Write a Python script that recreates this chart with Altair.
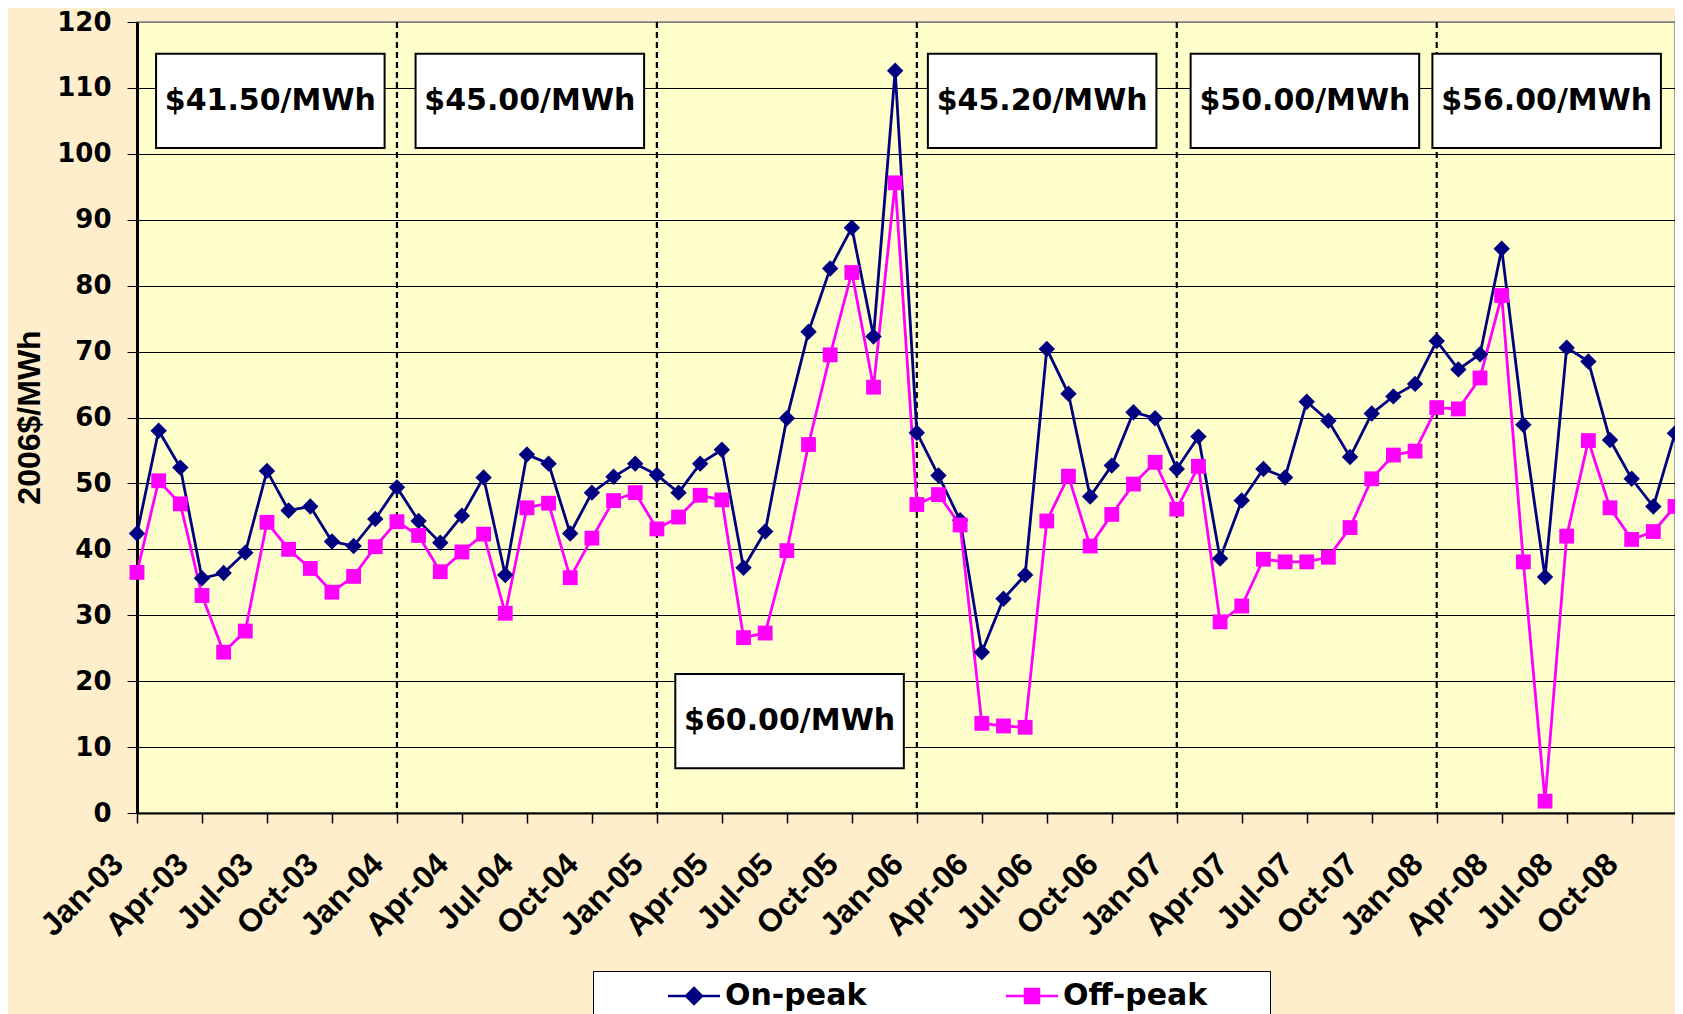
import json
import altair as alt
import pandas as pd

month_names = ["Jan", "Feb", "Mar", "Apr", "May", "Jun", "Jul", "Aug", "Sep", "Oct", "Nov", "Dec"]
years = ["03", "04", "05", "06", "07", "08"]
months = [f"{m}-{y}" for y in years for m in month_names]
tick_labels = months[::3]

on_peak = [42.4, 58.0, 52.4, 35.6, 36.4, 39.5, 51.9, 45.9, 46.5, 41.2, 40.5, 44.6,
           49.4, 44.3, 41.0, 45.1, 50.9, 36.1, 54.4, 53.0, 42.4, 48.6, 51.0, 53.0,
           51.3, 48.6, 53.0, 55.1, 37.2, 42.7, 59.9, 73.0, 82.6, 88.8, 72.3, 112.6,
           57.7, 51.2, 44.4, 24.4, 32.5, 36.1, 70.4, 63.6, 48.0, 52.7, 60.8, 59.9,
           52.2, 57.1, 38.6, 47.4, 52.2, 50.9, 62.4, 59.5, 54.0, 60.6, 63.2, 65.1,
           71.6, 67.3, 69.6, 85.6, 58.9, 35.8, 70.6, 68.5, 56.6, 50.7, 46.5, 57.6]
off_peak = [36.5, 50.4, 46.9, 33.0, 24.4, 27.6, 44.1, 40.0, 37.1, 33.5, 35.9, 40.4,
            44.2, 42.1, 36.6, 39.6, 42.3, 30.3, 46.3, 47.0, 35.7, 41.7, 47.4, 48.6,
            43.1, 44.9, 48.2, 47.5, 26.6, 27.3, 39.8, 55.9, 69.5, 82.0, 64.6, 95.6,
            46.8, 48.3, 43.7, 13.6, 13.2, 13.0, 44.3, 51.1, 40.5, 45.3, 49.9, 53.2,
            46.1, 52.6, 29.0, 31.4, 38.5, 38.1, 38.1, 38.8, 43.3, 50.7, 54.3, 54.9,
            61.5, 61.3, 66.0, 78.5, 38.1, 1.8, 42.0, 56.5, 46.3, 41.5, 42.7, 46.5]
series_names = ["On-peak", "Off-peak"]
series_colors = ["#000080", "#FF00FF"]

# price annotation boxes (in month-index / $ units)
price_labels = ["$41.50/MWh", "$45.00/MWh", "$60.00/MWh", "$45.20/MWh", "$50.00/MWh", "$56.00/MWh"]
box_start = [0.88, 12.86, 24.85, 36.51, 48.64, 59.8]
box_low = [100.9, 100.9, 6.8, 100.9, 100.9, 100.9]
BOX_W = 10.55
BOX_H = 14.3
year_starts = [12, 24, 36, 48, 60]

n = len(months)
df = pd.DataFrame({
    "idx": list(range(n)) * 2,
    "month": months * 2,
    "series": [series_names[0]] * n + [series_names[1]] * n,
    "value": on_peak + off_peak,
})
boxes = pd.DataFrame({
    "label": price_labels,
    "x0": box_start,
    "x1": [b + BOX_W for b in box_start],
    "y0": box_low,
    "y1": [b + BOX_H for b in box_low],
    "xc": [b + BOX_W / 2 for b in box_start],
    "yc": [b + BOX_H / 2 for b in box_low],
})
rules_df = pd.DataFrame({"idx": year_starts})

xscale = alt.Scale(domain=[0, n - 1], nice=False, zero=False)
yscale = alt.Scale(domain=[0, 120], nice=False)

axis_x = alt.Axis(
    values=list(range(0, n, 3)),
    labelExpr=f"{json.dumps(tick_labels)}[round(datum.value/3)]",
    labelAngle=315, labelAlign="right", labelBaseline="top",
    labelFont="Liberation Sans", labelFontSize=32, labelFontWeight="bold", labelColor="black",
    labelOffset=-30, labelPadding=25, labelOverlap=False, labelFlush=False,
    tickSize=10, tickColor="black", tickWidth=1.5,
    domainColor="black", domainWidth=2, grid=False, title=None,
)
axis_y = alt.Axis(
    values=list(range(0, 121, 10)),
    labelFont="DejaVu Sans", labelFontSize=26, labelFontWeight="bold", labelColor="black",
    labelPadding=16, tickSize=10, tickColor="black", tickWidth=1,
    domainColor="black", domainWidth=3,
    grid=True, gridColor=alt.condition("datum.value == 120", alt.value("#808080"), alt.value("black")),
    gridWidth=1,
    title="2006$/MWh", titleFont="Liberation Sans", titleFontSize=32,
    titleFontWeight="bold", titleColor="black", titleX=-108, titleY=395,
    titleAlign="center", titleBaseline="middle", titleAngle=270,
)

X = lambda f: alt.X(f, scale=xscale, axis=axis_x, title=None)
Y = lambda f: alt.Y(f, scale=yscale, axis=axis_y, title="2006$/MWh")

rules = alt.Chart(rules_df).mark_rule(color="black", strokeWidth=2.2, strokeDash=[6, 4]).encode(
    x=X("idx:Q")
)

rects = alt.Chart(boxes).mark_rect(fill="white", stroke="black", strokeWidth=2).encode(
    x=X("x0:Q"), x2="x1:Q", y=Y("y0:Q"), y2="y1:Q"
)
texts = alt.Chart(boxes).mark_text(
    font="DejaVu Sans", fontSize=30, fontWeight="bold", color="black", baseline="middle"
).encode(x=X("xc:Q"), y=Y("yc:Q"), text="label:N")

on_path = "M-1,0H5.5M2.25,-1L3.25,0L2.25,1L1.25,0Z"
off_path = "M-1,0H5.5M1.375,-0.875H3.125V0.875H1.375Z"
trail = "\u00a0" * 5 + "\u200b"

legend = alt.Legend(
    title=" ", titleOrient="left", titlePadding=58, titleFontSize=4,
    orient="none", legendX=456, legendY=949, direction="horizontal",
    fillColor="white", strokeColor="black", padding=10,
    labelFont="DejaVu Sans", labelFontSize=30, labelFontWeight="bold", labelColor="black",
    labelLimit=500,
    symbolSize=256, symbolStrokeWidth=2.5, symbolOpacity=1, labelOffset=34, columnPadding=132,
    labelExpr=f"datum.label == 'Off-peak' ? datum.label + '{trail}' : datum.label",
)

cscale = alt.Scale(domain=series_names, range=series_colors)

lines = alt.Chart(df).mark_line(strokeWidth=2.8).encode(
    x=X("idx:Q"), y=Y("value:Q"),
    color=alt.Color("series:N", scale=cscale, legend=legend),
)
pts_on = alt.Chart(df).transform_filter(alt.datum.series == "On-peak").mark_point(
    shape="diamond", filled=True, opacity=1, size=270, color=series_colors[0]
).encode(x=X("idx:Q"), y=Y("value:Q"))
pts_off = alt.Chart(df).transform_filter(alt.datum.series == "Off-peak").mark_point(
    shape="square", filled=True, opacity=1, size=220, color=series_colors[1]
).encode(x=X("idx:Q"), y=Y("value:Q"))

legend_layer = alt.Chart(df).transform_filter("datum.idx < 0").mark_point(
    filled=True, opacity=1, strokeWidth=2.5
).encode(
    x=X("idx:Q"), y=Y("value:Q"),
    color=alt.Color("series:N", scale=cscale, legend=legend),
    stroke=alt.Stroke("series:N", scale=alt.Scale(domain=series_names, range=series_colors), legend=legend),
    shape=alt.Shape("series:N", scale=alt.Scale(domain=series_names, range=[on_path, off_path]), legend=legend),
)

chart = alt.layer(rules, rects, texts, lines, pts_on, pts_off, legend_layer).properties(
    width=1538, height=791,
    autosize=alt.AutoSizeParams(type="none"),
    padding={"left": 129, "top": 14, "right": 0, "bottom": 210},
    background="#FFEECC",
).configure_view(fill="#FFFFCC", stroke="#808080", strokeWidth=1.5)

chart.save("out.html", embed_options={"renderer": "svg", "actions": False})
